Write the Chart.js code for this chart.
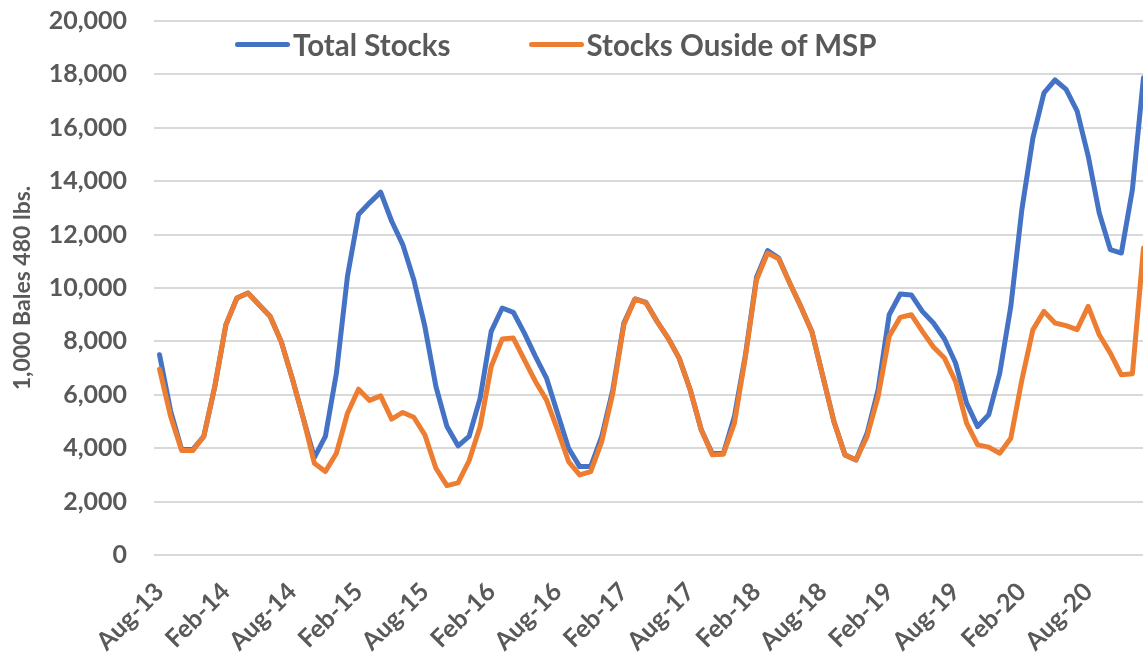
<!DOCTYPE html>
<html>
<head>
<meta charset="utf-8">
<title>Cotton stocks</title>
<script src="https://cdn.jsdelivr.net/npm/chart.js@4"></script>
<style>
    html, body { margin: 0; padding: 0; background: #fff; overflow: hidden; }
    #wrap { position: relative; width: 1149px; height: 660px; }
    #legend { position: absolute; left: 235px; top: 27px; display: flex; font-family: Lato, sans-serif; font-weight: bold; font-size: 29.5px; color: #595959; }
    #legend .item { display: flex; align-items: center; margin-right: 78px; white-space: nowrap; }
    #legend .swatch { width: 55px; height: 5px; border-radius: 3px; margin-right: 3px; }
</style>
</head>
<body>
<div id="wrap">
    <canvas id="stockChart"></canvas>
    <div id="legend"></div>
</div>
<script>
// monthly, Aug-13 .. Jan-21
const monthNames = ['Jan', 'Feb', 'Mar', 'Apr', 'May', 'Jun', 'Jul', 'Aug', 'Sep', 'Oct', 'Nov', 'Dec'];
const startMonth = 7;   // Aug
const startYear = 13;
const monthCount = 90;

const totalStocks = [
    7500, 5400, 3950, 3950, 4440, 6310, 8620, 9625, 9810, 9375, 8940, 8000,
    6625, 5125, 3650, 4440, 6810, 10440, 12750, 13190, 13590, 12500, 11625, 10310,
    8560, 6310, 4810, 4090, 4440, 5875, 8375, 9250, 9090, 8310, 7440, 6625,
    5310, 4000, 3310, 3310, 4440, 6190, 8690, 9590, 9460, 8750, 8125, 7375,
    6190, 4690, 3800, 3800, 5190, 7500, 10400, 11400, 11120, 10190, 9310, 8375,
    6690, 5000, 3750, 3560, 4560, 6190, 9000, 9775, 9740, 9125, 8690, 8090,
    7190, 5690, 4810, 5250, 6810, 9310, 12940, 15625, 17310, 17790, 17440, 16625,
    14940, 12810, 11440, 11310, 13690, 17875
];

const outsideMsp = [
    6960, 5200, 3910, 3910, 4440, 6310, 8620, 9625, 9810, 9375, 8940, 8000,
    6625, 5125, 3440, 3125, 3810, 5310, 6210, 5790, 5960, 5090, 5340, 5160,
    4500, 3250, 2600, 2700, 3530, 4810, 7060, 8090, 8125, 7310, 6500, 5810,
    4690, 3500, 3000, 3125, 4250, 6060, 8625, 9590, 9440, 8750, 8125, 7375,
    6190, 4690, 3750, 3775, 4940, 7440, 10310, 11310, 11090, 10190, 9310, 8375,
    6690, 5000, 3750, 3560, 4440, 5940, 8190, 8900, 9000, 8375, 7790, 7375,
    6500, 4940, 4125, 4040, 3810, 4375, 6560, 8440, 9125, 8690, 8590, 8440,
    9310, 8250, 7560, 6750, 6790, 11500
];

const seriesNames = ['Total Stocks', 'Stocks Ouside of MSP'];
const seriesColors = ['#4472C4', '#ED7D31'];

const months = [];
for (let i = 0; i < monthCount; i++) {
    const m = (startMonth + i) % 12;
    const y = startYear + Math.floor((startMonth + i) / 12);
    months.push(monthNames[m] + '-' + y);
}

const textColor = '#595959';
const fontFamily = 'Lato, sans-serif';

const chart = new Chart(document.getElementById('stockChart'), {
    type: 'line',
    data: {
        labels: months,
        datasets: [
            { label: seriesNames[0], data: totalStocks, borderColor: seriesColors[0], backgroundColor: seriesColors[0], order: 2 },
            { label: seriesNames[1], data: outsideMsp, borderColor: seriesColors[1], backgroundColor: seriesColors[1], order: 1 }
        ]
    },
    options: {
        responsive: true,
        maintainAspectRatio: false,
        animation: false,
        layout: { padding: { top: 21, right: 0, bottom: 0, left: 0 } },
        elements: {
            line: { borderWidth: 5, tension: 0, borderCapStyle: 'round', borderJoinStyle: 'round' },
            point: { radius: 0 }
        },
        plugins: {
            legend: { display: false },
            tooltip: { enabled: false }
        },
        scales: {
            x: {
                offset: true,
                grid: { display: false },
                border: { display: false },
                afterFit: function(scale) { scale.height = 105; },
                ticks: {
                    autoSkip: false,
                    maxRotation: 45,
                    minRotation: 45,
                    padding: 14,
                    color: textColor,
                    font: { family: fontFamily, weight: 'bold', size: 25 },
                    callback: function(value, index) {
                        return index % 6 === 0 ? this.getLabelForValue(value) : null;
                    }
                }
            },
            y: {
                min: 0,
                max: 20000,
                afterFit: function(scale) { scale.width = 154; },
                // invisible tick marks give the gap between labels and plot
                grid: { color: '#D9D9D9', lineWidth: 2, drawTicks: true, tickLength: 24, tickColor: 'rgba(0,0,0,0)' },
                border: { display: false },
                ticks: {
                    stepSize: 2000,
                    padding: 3,
                    color: textColor,
                    font: { family: fontFamily, weight: 'bold', size: 25 },
                    callback: function(value) { return value.toLocaleString('en-US'); }
                },
                title: {
                    display: true,
                    text: '1,000 Bales 480 lbs.',
                    color: textColor,
                    padding: { top: 9, bottom: 0 },
                    font: { family: fontFamily, weight: 'bold', size: 23 }
                }
            }
        }
    }
});

// legend sits inside the plot area, like the original
const legendDiv = document.getElementById('legend');
chart.data.datasets.forEach(function(ds) {
    const item = document.createElement('div');
    item.className = 'item';
    const swatch = document.createElement('span');
    swatch.className = 'swatch';
    swatch.style.background = ds.borderColor;
    const label = document.createElement('span');
    label.textContent = ds.label;
    item.appendChild(swatch);
    item.appendChild(label);
    legendDiv.appendChild(item);
});
</script>
</body>
</html>
